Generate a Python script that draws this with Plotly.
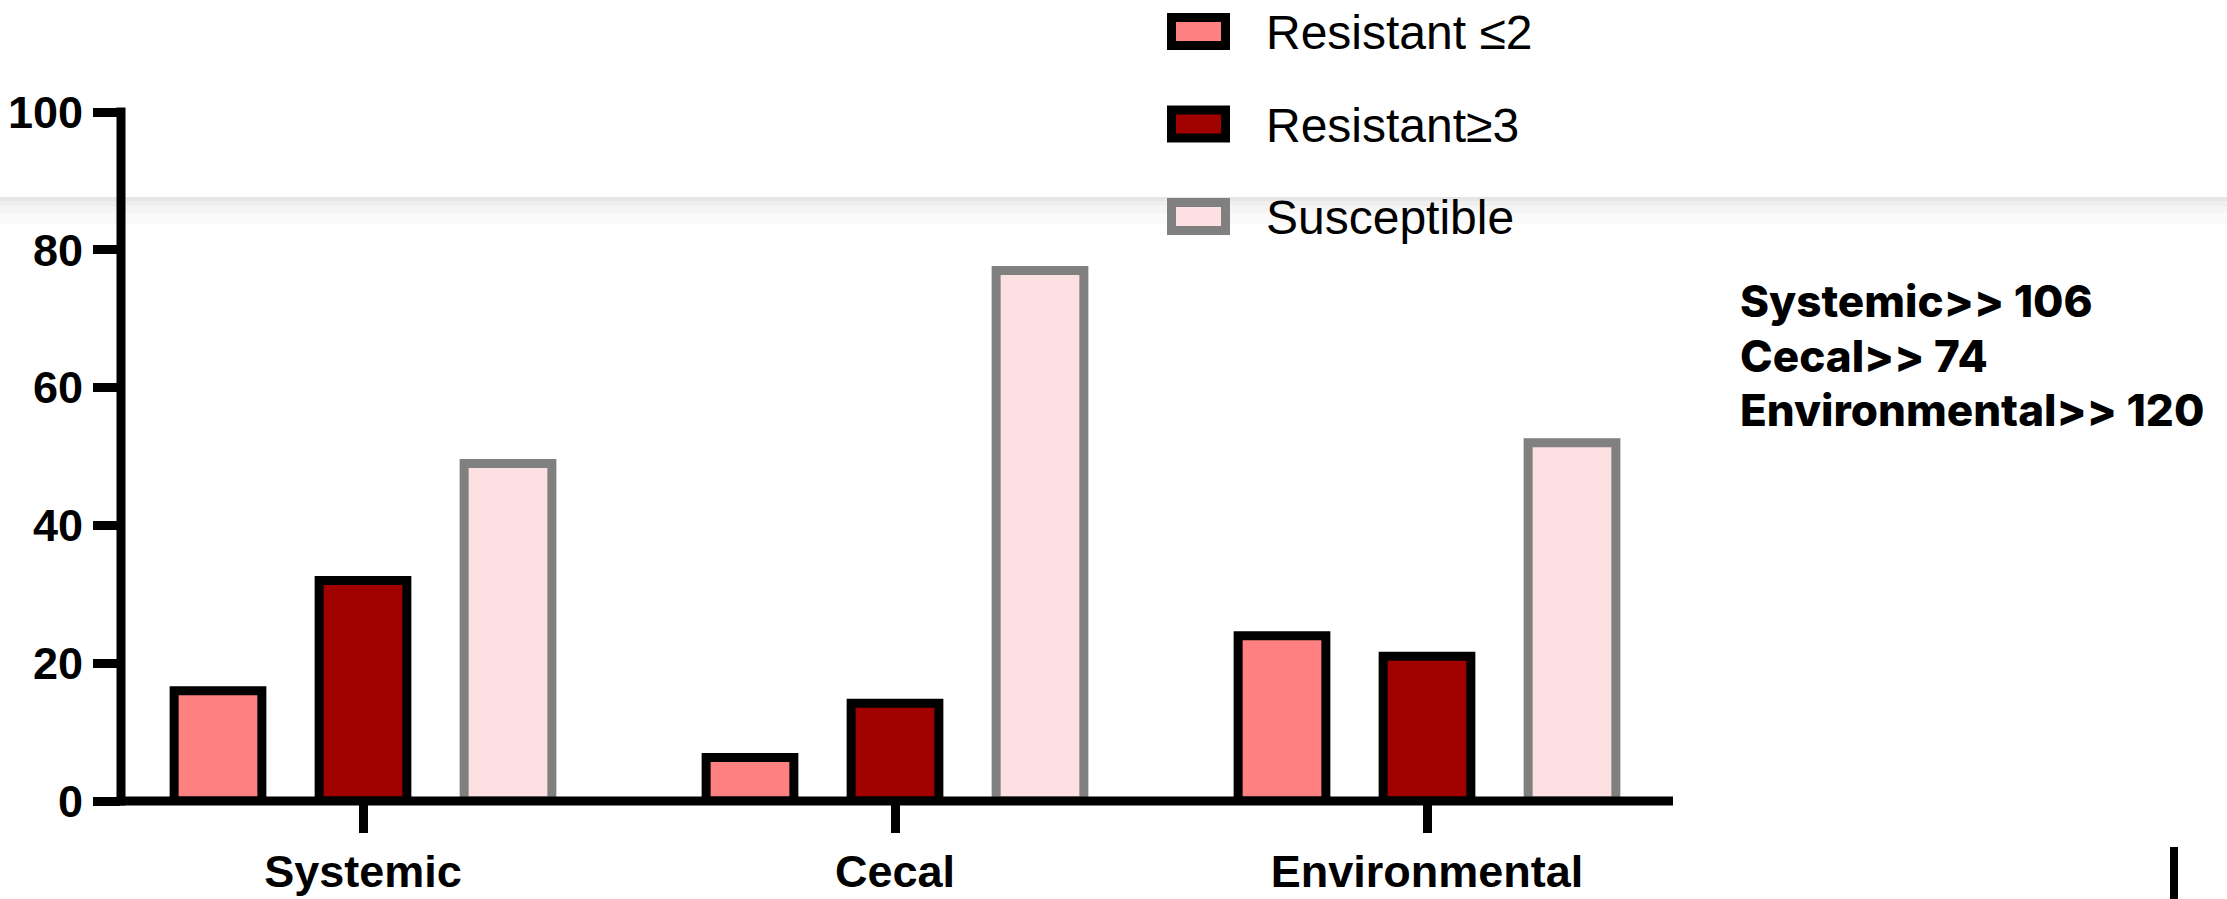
import plotly.graph_objects as go

# ---- data ----
categories = ["Systemic", "Cecal", "Environmental"]
resistant_le2 = [16, 6.3, 24]
resistant_ge3 = [32, 14.2, 21]
susceptible = [49, 77, 52]
series_names = ["Resistant ≤2", "Resistant≥3", "Susceptible"]
fill_colors = ["#FF8080", "#A00000", "#FDE0E2"]
line_colors = ["#000000", "#000000", "#808080"]
y_tick_vals = [0, 20, 40, 60, 80, 100]
side_notes = ["Systemic>> 106", "Cecal>> 74", "Environmental>> 120"]

# ---- layout geometry (pixels) ----
FW, FH = 2227, 899
L, R, T, B = 121, 554, 112, 98
W, H = FW - L - R, FH - T - B


def px(x):
    return (x - L) / W


def py(y):
    return (T + H - y) / H


fig = go.Figure()
for name, vals, fc, lc in zip(series_names, [resistant_le2, resistant_ge3, susceptible], fill_colors, line_colors):
    fig.add_trace(go.Bar(
        x=categories, y=vals, name=name,
        marker=dict(color=fc, line=dict(color=lc, width=9)),
        showlegend=False, hoverinfo="skip",
    ))

shapes = []
# faint horizontal screen band
band = [(197, 201, "#e6e6e6"), (201, 206, "#efefef"), (206, 213, "#f5f5f5"), (213, 224, "#fafafa")]
for y0, y1, c in band:
    shapes.append(dict(type="rect", xref="paper", yref="paper", x0=px(0), x1=px(FW),
                       y0=py(y1), y1=py(y0), fillcolor=c, line=dict(width=0), layer="below"))
# axis lines
shapes.append(dict(type="line", xref="paper", yref="paper", x0=px(L - 4.5), x1=px(L + W),
                   y0=0, y1=0, line=dict(color="black", width=9), layer="above"))
shapes.append(dict(type="line", xref="paper", yref="paper", x0=0, x1=0,
                   y0=py(T + H + 4.5), y1=py(T - 4.5), line=dict(color="black", width=9), layer="above"))
# cursor mark
shapes.append(dict(type="rect", xref="paper", yref="paper", x0=px(2170), x1=px(2178),
                   y0=py(899), y1=py(847), fillcolor="black", line=dict(width=0)))

annotations = []
# manual legend
for i, (name, fc, lc) in enumerate(zip(series_names, fill_colors, line_colors)):
    cy = 31.5 + i * 92.5
    shapes.append(dict(type="rect", xref="paper", yref="paper", x0=px(1171.5), x1=px(1225.5),
                       y0=py(cy + 14), y1=py(cy - 14), fillcolor=fc, line=dict(color=lc, width=9)))
    annotations.append(dict(xref="paper", yref="paper", x=px(1264), y=py(cy + 1), text=name,
                            showarrow=False, xanchor="left", yanchor="middle",
                            font=dict(family="Liberation Sans, Arial", size=48, color="black")))

for i, t in enumerate(side_notes):
    cy = 301 + i * 54.5
    annotations.append(dict(xref="paper", yref="paper", x=px(1738), y=py(cy), text=t,
                            showarrow=False, xanchor="left", yanchor="middle",
                            font=dict(family="Inter, Roboto, Arial", size=44, color="black", weight=800)))

fig.update_layout(
    width=FW, height=FH,
    margin=dict(l=L, r=R, t=T, b=B, pad=0, autoexpand=False),
    paper_bgcolor="white", plot_bgcolor="white",
    barmode="group", bargap=0.1823, bargroupgap=0.395,
    shapes=shapes, annotations=annotations,
    xaxis=dict(type="category", range=[-(363 - L) / 532, -(363 - L) / 532 + W / 532],
               automargin=False,
               showline=False, showgrid=False, zeroline=False,
               ticks="outside", ticklen=31, tickwidth=9, tickcolor="black",
               tickfont=dict(family="Liberation Sans, Arial", size=45, color="black", weight="bold")),
    yaxis=dict(range=[0, 100], tickvals=y_tick_vals, automargin=False,
               showline=False, showgrid=False, zeroline=False,
               ticks="outside", ticklen=27, tickwidth=9, tickcolor="black",
               ticklabelstandoff=1,
               tickfont=dict(family="Liberation Sans, Arial", size=45, color="black", weight="bold")),
)

fig.write_html("out.html", config={"displayModeBar": False},
               post_script="document.body.style.margin='0';document.body.style.overflow='hidden';")
